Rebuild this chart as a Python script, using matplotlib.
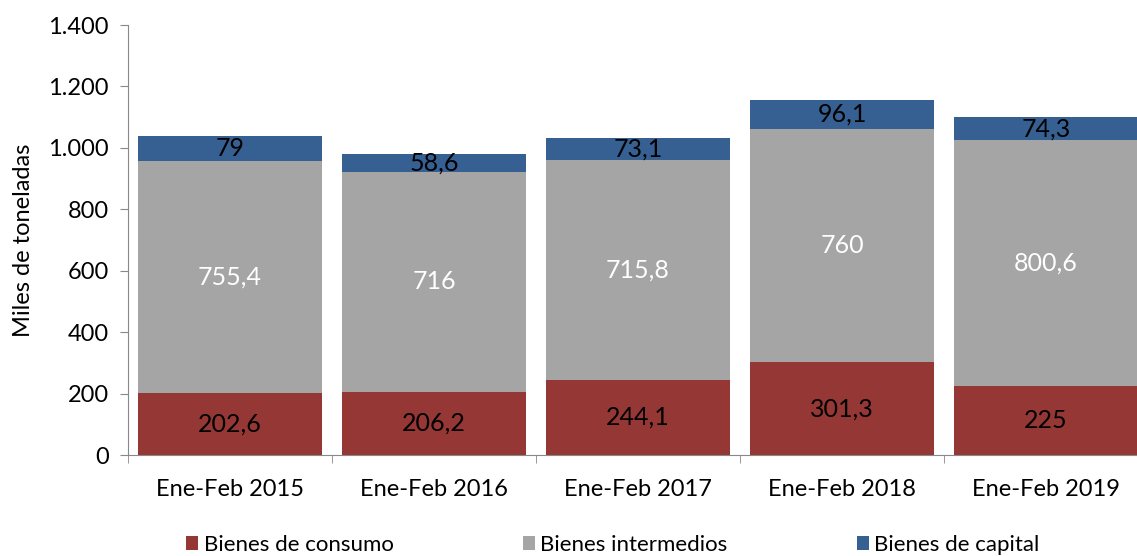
import matplotlib
matplotlib.use("Agg")
import matplotlib.pyplot as plt
import numpy as np

categories = ["Ene-Feb 2015", "Ene-Feb 2016", "Ene-Feb 2017", "Ene-Feb 2018", "Ene-Feb 2019"]
consumo = [202.6, 206.2, 244.1, 301.3, 225]
intermedios = [755.4, 716, 715.8, 760, 800.6]
capital = [79, 58.6, 73.1, 96.1, 74.3]
series_names = ["Bienes de consumo", "Bienes intermedios", "Bienes de capital"]
yticks = [0, 200, 400, 600, 800, 1000, 1200, 1400]

colors = ["#953735", "#A5A5A5", "#376092"]
label_colors = ["black", "white", "black"]

plt.rcParams['font.family'] = ['Lato', 'DejaVu Sans']

fig = plt.figure(figsize=(11.37, 5.56), dpi=100)
ax = fig.add_axes([128/1137, 1-455/556, 1020/1137, 430/556])

x = np.arange(len(categories))
bottom = np.zeros(len(categories))
handles = []
for vals, col, lc, name in zip([consumo, intermedios, capital], colors, label_colors, series_names):
    v = np.array(vals, dtype=float)
    b = ax.bar(x, v, bottom=bottom, width=0.9, color=col, label=name, zorder=2)
    handles.append(b)
    for xi, vi, bi in zip(x, v, bottom):
        txt = f"{vi:g}".replace(".", ",")
        ax.text(xi, bi + vi/2, txt, ha="center", va="center", color=lc, fontsize=18)
    bottom += v

ax.set_xlim(-0.5, len(categories) - 0.5)
ax.set_ylim(0, 1400)
ax.set_yticks(yticks)
ax.set_yticklabels([f"{t:,}".replace(",", ".") for t in yticks], fontsize=17)
ax.set_xticks(x)
ax.set_xticklabels(categories, fontsize=17)
ax.set_xticks(np.arange(-0.5, len(categories), 1), minor=True)
ax.tick_params(axis="x", which="major", length=0, pad=17)
ax.tick_params(axis="x", which="minor", length=6, color="#888888")
ax.tick_params(axis="y", length=6, color="#888888", pad=8)
for s in ["top", "right"]:
    ax.spines[s].set_visible(False)
for s in ["left", "bottom"]:
    ax.spines[s].set_color("#888888")
ax.set_ylabel("Miles de toneladas", fontsize=17, labelpad=10)

fig.legend(handles=handles, labels=series_names, loc="center", bbox_to_anchor=(0.539, 0.02),
           ncol=3, frameon=False, fontsize=16, handlelength=0.55, handleheight=0.55,
           columnspacing=5.8, handletextpad=0.25)

fig.savefig("out.png", dpi=100)
